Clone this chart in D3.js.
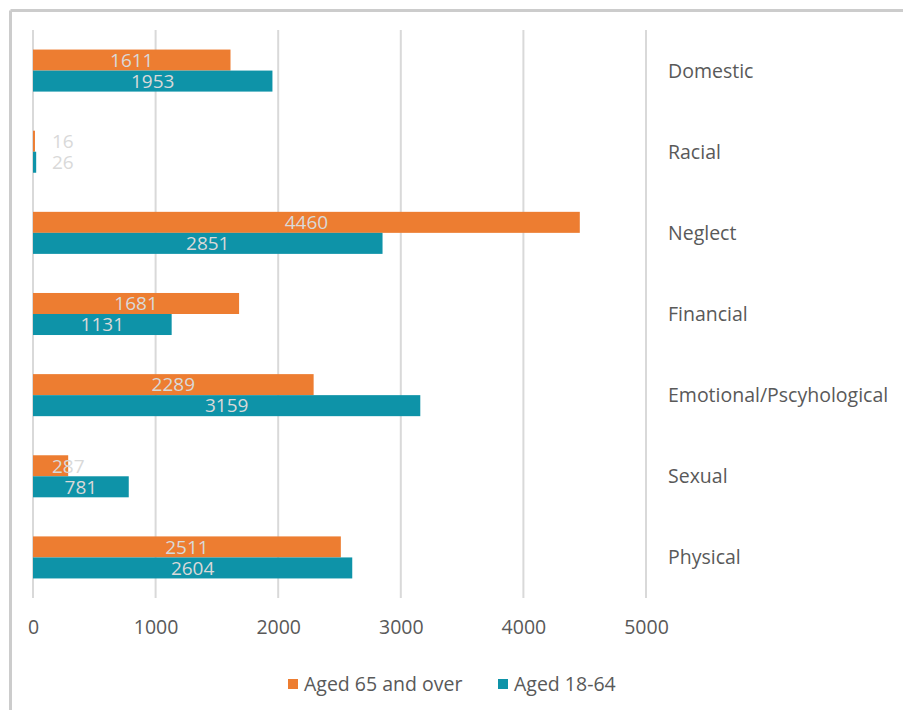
<!DOCTYPE html>
<html lang="en">
<head>
	<meta charset="UTF-8"/>
	<title>Abuse type by age group</title>
	<script src="https://d3js.org/d3.v7.min.js"></script>
	<style>
	body { margin: 0; background: #fff; }
	svg text { font-family: "Open Sans", sans-serif; }
	</style>
</head>
<body>
	<div id="chart"></div>
	<script>
	// categories, top to bottom
	var categories = ["Domestic", "Racial", "Neglect", "Financial",
					"Emotional/Pscyhological", "Sexual", "Physical"];
	var seriesNames = ["Aged 65 and over", "Aged 18-64"];
	var aged65 = [1611, 16, 4460, 1681, 2289, 287, 2511];
	var aged1864 = [1953, 26, 2851, 1131, 3159, 781, 2604];
	var xTicks = [0, 1000, 2000, 3000, 4000, 5000];
	var colours = ["#ED7D31", "#0E93A8"];

	var w = 903, h = 710;
	var x0 = 33, x1 = 646;
	var plotTop = 30, plotBottom = 598;

	var svg = d3.select("#chart").append("svg")
		.attr("width", w)
		.attr("height", h);

	// frame (only top and left edges visible)
	svg.append("line").attr("x1", 10.5).attr("x2", w).attr("y1", 10.5).attr("y2", 10.5)
		.attr("stroke", "#cccccc").attr("stroke-width", 3);
	svg.append("line").attr("x1", 10.5).attr("x2", 10.5).attr("y1", 10.5).attr("y2", h)
		.attr("stroke", "#cccccc").attr("stroke-width", 3);

	var xScale = d3.scaleLinear().domain([0, 5000]).range([x0, x1]);
	var yScale = d3.scaleBand().domain(categories).range([plotTop, plotBottom]);
	var inner = d3.scaleBand().domain(seriesNames)
		.range([0, yScale.bandwidth()]).paddingOuter(0.93);

	//Gridlines
	svg.append("g").selectAll("line")
		.data(xTicks)
		.enter()
		.append("line")
		.attr("x1", function(d) { return xScale(d); })
		.attr("x2", function(d) { return xScale(d); })
		.attr("y1", plotTop)
		.attr("y2", plotBottom)
		.attr("stroke", "#d9d9d9")
		.attr("stroke-width", 2);

	//x axis labels
	var xAxis = d3.axisBottom(xScale).tickValues(xTicks).tickFormat(d3.format("d"))
		.tickSize(0).tickPadding(22);
	var gx = svg.append("g")
		.attr("transform", "translate(0," + plotBottom + ")")
		.call(xAxis);
	gx.select(".domain").remove();
	gx.selectAll("text").attr("font-size", "19.5px").attr("fill", "#595959")
		.style("font-family", "'Open Sans', sans-serif");

	var series = [aged65, aged1864];
	var rows = [];
	categories.forEach(function(c, i) {
		series.forEach(function(s, j) {
			rows.push({cat: c, name: seriesNames[j], value: s[i], idx: j});
		});
	});

	function narrow(d) {
		return xScale(d.value) - xScale(0) < String(d.value).length * 13;
	}

	//Bars
	svg.append("g").selectAll("rect")
		.data(rows)
		.enter()
		.append("rect")
		.attr("x", xScale(0))
		.attr("y", function(d) { return yScale(d.cat) + inner(d.name); })
		.attr("width", function(d) { return xScale(d.value) - xScale(0); })
		.attr("height", inner.bandwidth())
		.attr("fill", function(d) { return colours[d.idx]; });

	//Value labels
	svg.append("g").selectAll("text")
		.data(rows)
		.enter()
		.append("text")
		.text(function(d) { return d.value; })
		.attr("x", function(d) {
			return narrow(d) ? xScale(0) + 19 : (xScale(0) + xScale(d.value)) / 2;
		})
		.attr("text-anchor", function(d) { return narrow(d) ? "start" : "middle"; })
		.attr("y", function(d) { return yScale(d.cat) + inner(d.name) + inner.bandwidth() / 2; })
		.attr("dy", "0.36em")
		.attr("font-size", "19px")
		.attr("fill", "#d9d9d9");

	//Category labels
	svg.append("g").selectAll("text")
		.data(categories)
		.enter()
		.append("text")
		.text(function(d) { return d; })
		.attr("x", 668)
		.attr("y", function(d) { return yScale(d) + yScale.bandwidth() / 2; })
		.attr("dy", "0.36em")
		.attr("font-size", "19.5px")
		.attr("fill", "#595959");

	//Legend
	var legX = [288, 498];
	var leg = svg.append("g").selectAll("g")
		.data(seriesNames)
		.enter()
		.append("g")
		.attr("transform", function(d, i) { return "translate(" + legX[i] + ",684)"; });
	leg.append("rect")
		.attr("x", 0).attr("y", -5)
		.attr("width", 10).attr("height", 10)
		.attr("fill", function(d, i) { return colours[i]; });
	leg.append("text")
		.text(function(d) { return d; })
		.attr("x", 16)
		.attr("dy", "0.36em")
		.attr("font-size", "19.5px")
		.attr("fill", "#595959");
	</script>
</body>
</html>
